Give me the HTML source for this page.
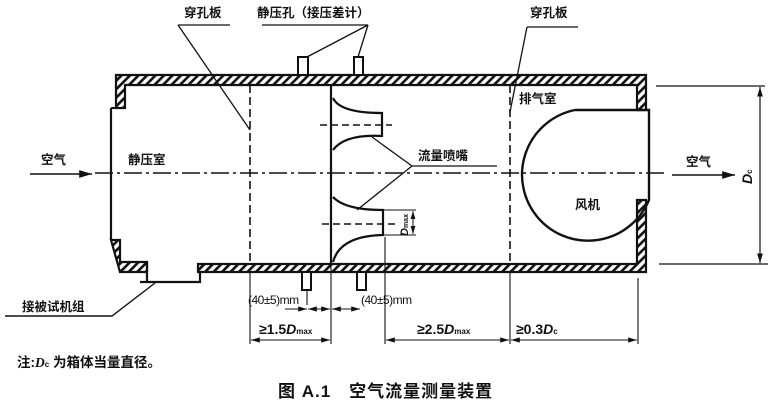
<!DOCTYPE html>
<html><head><meta charset="utf-8"><style>
html,body{margin:0;padding:0;background:#fff;}
svg{display:block}
text{font-family:"Liberation Sans","Noto Sans CJK SC",sans-serif;font-weight:bold;fill:#111}
</style></head><body>
<svg width="772" height="402" viewBox="0 0 772 402" xmlns="http://www.w3.org/2000/svg">
<defs>
<pattern id="h" width="6" height="6" patternUnits="userSpaceOnUse" patternTransform="rotate(45)">
<rect width="6" height="6" fill="#fff"/><rect width="2.6" height="6" fill="#111"/>
</pattern>
<marker id="a" viewBox="0 0 10 6" refX="10" refY="3" markerWidth="8" markerHeight="5" orient="auto-start-reverse"><path d="M0,0 L10,3 L0,6z" fill="#111"/></marker>
</defs>
<g stroke="#111" fill="none">
<path d="M116,75 H646 V110 H637 V85 H125 V108 H116 Z" fill="url(#h)" stroke-width="2.2"/>
<path d="M111,108 H116" stroke-width="2"/>
<path d="M111,108 V240" stroke-width="2.2"/>
<path d="M111,240 H120 V262 H147 V272 H120 Z" fill="url(#h)" stroke-width="2.2"/>
<path d="M147,262 V282 M140,282 H200 V272" stroke-width="2.2"/>
<path d="M198,264 H637 V200 H646 V272 H198 Z" fill="url(#h)" stroke-width="2.2"/>
<path d="M575,110 H649 V200 A66,66 0 1 1 575,110" stroke-width="2.4"/>
<path d="M95,173 H665" stroke-width="1.4" stroke-dasharray="18,4,3,4"/>
<path d="M30,174 H92" stroke-width="1.6" marker-end="url(#a)"/>
<path d="M672,175 H735" stroke-width="1.6" marker-end="url(#a)"/>
<path d="M250,85 V264 M510,85 V264" stroke-width="1.6" stroke-dasharray="8,4"/>
<path d="M178,25 H230 M178,25 L250,130" stroke-width="1.3"/>
<path d="M527,27 H578 M527,27 L510,112" stroke-width="1.3"/>
<path d="M262,25 H368 L307,57 M368,25 L358,57" stroke-width="1.3"/>
<rect x="298" y="57" width="10" height="18" fill="#fff" stroke-width="2"/>
<rect x="354" y="57" width="9" height="18" fill="#fff" stroke-width="2"/>
<rect x="302" y="272" width="9" height="18" fill="#fff" stroke-width="2"/>
<rect x="357" y="272" width="9" height="18" fill="#fff" stroke-width="2"/>
<path d="M331,85 V264" stroke-width="2.2"/>
<path d="M333,98 Q340,113 382,113 V136 Q345,134 333,150" stroke-width="2.2"/>
<path d="M333,197 Q345,210 383,210 V235 Q340,236 333,262" stroke-width="2.2"/>
<path d="M320,125 H392 M322,224 H395" stroke-width="1.4" stroke-dasharray="7,4"/>
<path d="M383,210 H416 M383,235 H416" stroke-width="1"/>
<path d="M413,211 V234" stroke-width="1" marker-start="url(#a)" marker-end="url(#a)"/>
<path d="M497,166 H412 L372,137 M412,166 L357,210" stroke-width="1.3"/>
<path d="M656,86 H765 M659,264 H768" stroke-width="1.3"/>
<path d="M760,87 V263" stroke-width="1.2" marker-start="url(#a)" marker-end="url(#a)"/>
<path d="M250,272 V344 M331,264 V344 M510,272 V344 M638,278 V344 M385,237 V344 M307,290 V305" stroke-width="1.1"/>
<path d="M251,340 H330" stroke-width="1.1" marker-start="url(#a)" marker-end="url(#a)"/>
<path d="M386,340 H509" stroke-width="1.1" marker-start="url(#a)" marker-end="url(#a)"/>
<path d="M511,340 H637" stroke-width="1.1" marker-start="url(#a)" marker-end="url(#a)"/>
<path d="M285,309 H307" stroke-width="1.1" marker-end="url(#a)"/>
<path d="M308,309 H330" stroke-width="1.1" marker-start="url(#a)" marker-end="url(#a)"/>
<path d="M332,309 H360" stroke-width="1.1" marker-start="url(#a)" marker-end="url(#a)"/>
<path d="M5,316 H112 L155,283" stroke-width="1.4"/>
</g>
<g font-size="12.5">
<text x="184" y="17">穿孔板</text>
<text x="257" y="17">静压孔（接压差计）</text>
<text x="530" y="17">穿孔板</text>
<text x="41" y="164">空气</text>
<text x="128" y="164">静压室</text>
<text x="519" y="103">排气室</text>
<text x="418" y="160">流量喷嘴</text>
<text x="686" y="166">空气</text>
<text x="575" y="209">风机</text>
<text x="22" y="311">接被试机组</text>
<text x="17" y="367" font-size="13.5">注:<tspan font-style="italic" font-family="Liberation Serif">D</tspan><tspan font-size="8">c</tspan> 为箱体当量直径。</text>
</g>
<g font-family="Liberation Serif" font-size="12">
<text x="248" y="304" font-family="Liberation Serif" style="font-weight:normal;letter-spacing:-0.5px">(40±5)mm</text>
<text x="361" y="304" font-family="Liberation Serif" style="font-weight:normal;letter-spacing:-0.5px">(40±5)mm</text>
<text x="259" y="334" font-family="Liberation Serif" font-size="14">≥1.5<tspan font-style="italic">D</tspan><tspan font-size="8">max</tspan></text>
<text x="417" y="334" font-family="Liberation Serif" font-size="14">≥2.5<tspan font-style="italic">D</tspan><tspan font-size="8">max</tspan></text>
<text x="516" y="334" font-family="Liberation Serif" font-size="14">≥0.3<tspan font-style="italic">D</tspan><tspan font-size="8">c</tspan></text>
<text transform="translate(752,184) rotate(-90)" font-family="Liberation Serif" font-size="14" font-style="italic">D<tspan font-size="8" font-style="normal">c</tspan></text>
<text transform="translate(408,236) rotate(-90)" font-family="Liberation Serif" font-size="11" font-style="italic">D<tspan font-size="7" font-style="normal">max</tspan></text>
</g>
<text x="278" y="397" font-size="17" style="letter-spacing:1px">图 A.1　空气流量测量装置</text>
</svg>
</body></html>
